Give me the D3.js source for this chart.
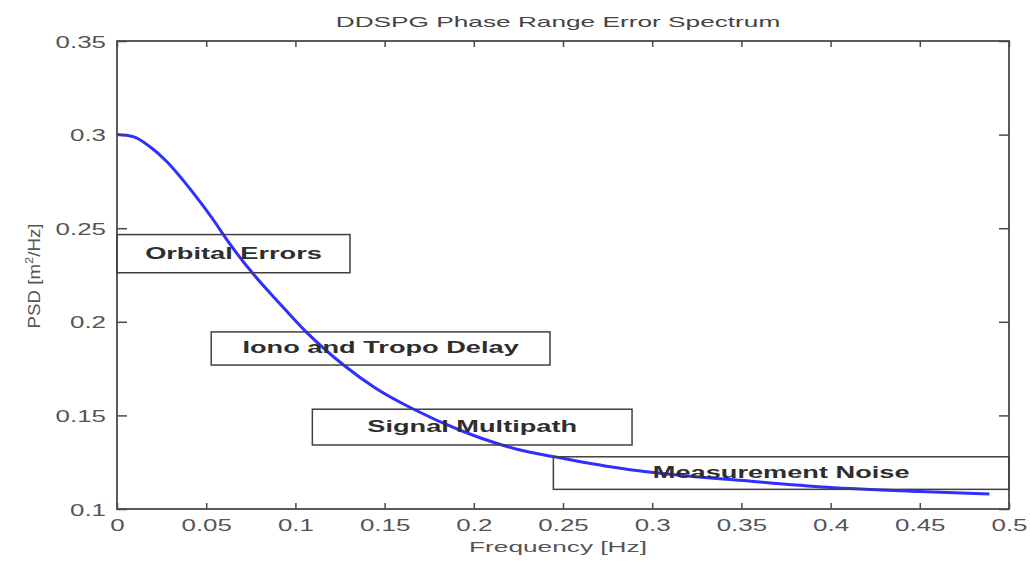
<!DOCTYPE html>
<html>
<head>
<meta charset="utf-8">
<script src="https://cdn.jsdelivr.net/npm/d3@7"></script>
<style>
  body { margin: 0; background: #fff; }
  svg { display: block; }
</style>
</head>
<body>
<svg id="chart" width="1030" height="565"></svg>
<script>
// Power spectral density of the phase range error (sampled along the curve)
const freq = [0.000, 0.009, 0.0185, 0.028, 0.037, 0.0465, 0.056, 0.0595, 0.065, 0.0764,
              0.090, 0.106, 0.127, 0.145, 0.166, 0.192, 0.226, 0.2444, 0.2735, 0.3044,
              0.351, 0.398, 0.450, 0.489];
const psd  = [0.300, 0.2989, 0.2935, 0.2855, 0.2757, 0.2642, 0.2517, 0.2467, 0.2393, 0.2255,
              0.2110, 0.1946, 0.1769, 0.1645, 0.1534, 0.1422, 0.1315, 0.1280, 0.1230, 0.1191,
              0.1152, 0.1116, 0.1093, 0.1080];

const xTicks = [0, 0.05, 0.1, 0.15, 0.2, 0.25, 0.3, 0.35, 0.4, 0.45, 0.5];
const xTickLabels = ["0", "0.05", "0.1", "0.15", "0.2", "0.25", "0.3", "0.35", "0.4", "0.45", "0.5"];
const yTicks = [0.1, 0.15, 0.2, 0.25, 0.3, 0.35];
const yTickLabels = ["0.1", "0.15", "0.2", "0.25", "0.3", "0.35"];

// Error-source annotations and their extents in data units [f0, f1, psdTop, psdBottom]
const noteLabels = ["Orbital Errors", "Iono and Tropo Delay", "Signal Multipath", "Measurement Noise"];
const noteExtents = [
  [0.0000, 0.1306, 0.2466, 0.2262],
  [0.0528, 0.2427, 0.1946, 0.1769],
  [0.1095, 0.2887, 0.1533, 0.1342],
  [0.2446, 0.5000, 0.1279, 0.1105]
];

const titleText = "DDSPG Phase Range Error Spectrum";
const xLabelText = "Frequency [Hz]";

// ---- layout ----
const plot = { left: 117, right: 1009, top: 41, bottom: 509 };
const STRETCH = 1.75;      // horizontal widening of the regular text
const TICK_STRETCH = 1.62; // horizontal widening of the tick labels
const STRETCH_BOLD = 1.7;  // horizontal widening of the annotation text
const axisColor = "#4a4a4a";
const textColor = "#555";

const svg = d3.select("#chart");

const x = d3.scaleLinear().domain([0, 0.5]).range([plot.left, plot.right]);
const y = d3.scaleLinear().domain([0.1, 0.35]).range([plot.bottom, plot.top]);

// ---- curve ----
const pts = freq.map((f, i) => [f, psd[i]]);
const line = d3.line().x(d => x(d[0])).y(d => y(d[1])).curve(d3.curveMonotoneX);
svg.append("path")
  .attr("d", line(pts))
  .attr("fill", "none")
  .attr("stroke", "#2f2fff")
  .attr("stroke-width", 3)
  .attr("stroke-linejoin", "round");

// ---- axes (ticks point inward on all four sides) ----
function styleAxis(g) {
  g.select(".domain").remove();
  g.selectAll(".tick line").attr("stroke", axisColor).attr("stroke-width", 1.5);
  g.attr("font-family", "'Liberation Sans', Arial, sans-serif").attr("font-size", 16);
  g.selectAll(".tick text").attr("fill", textColor);
}

const xFmt = d => xTickLabels[xTicks.indexOf(d)];
const yFmt = d => yTickLabels[yTicks.indexOf(d)];

const gx = svg.append("g")
  .attr("transform", `translate(0,${plot.bottom})`)
  .call(d3.axisBottom(x).tickValues(xTicks).tickFormat(xFmt).tickSize(-6).tickSizeOuter(0))
  .call(styleAxis);
gx.selectAll(".tick text")
  .attr("y", 22).attr("dy", null)
  .attr("transform", `scale(${TICK_STRETCH},1)`);

svg.append("g")
  .attr("transform", `translate(0,${plot.top})`)
  .call(d3.axisTop(x).tickValues(xTicks).tickFormat("").tickSize(-6).tickSizeOuter(0))
  .call(styleAxis);

const gy = svg.append("g")
  .attr("transform", `translate(${plot.left},0)`)
  .call(d3.axisLeft(y).tickValues(yTicks).tickFormat(yFmt).tickSize(-10).tickSizeOuter(0))
  .call(styleAxis);
gy.selectAll(".tick text")
  .attr("x", -11 / TICK_STRETCH).attr("dy", null).attr("y", 6)
  .attr("transform", `scale(${TICK_STRETCH},1)`);

svg.append("g")
  .attr("transform", `translate(${plot.right},0)`)
  .call(d3.axisRight(y).tickValues(yTicks).tickFormat("").tickSize(-10).tickSizeOuter(0))
  .call(styleAxis);

// plot frame
svg.append("rect")
  .attr("x", plot.left).attr("y", plot.top)
  .attr("width", plot.right - plot.left).attr("height", plot.bottom - plot.top)
  .attr("fill", "none").attr("stroke", axisColor).attr("stroke-width", 1.8);

// ---- annotation boxes ----
const notes = svg.append("g");
noteLabels.forEach((label, i) => {
  const [f0, f1, pTop, pBot] = noteExtents[i];
  const x0 = x(f0), x1 = x(f1), y0 = y(pTop), y1 = y(pBot);
  notes.append("rect")
    .attr("x", x0).attr("y", y0)
    .attr("width", x1 - x0).attr("height", y1 - y0)
    .attr("fill", "none").attr("stroke", "#404040").attr("stroke-width", 1.5);
  notes.append("text")
    .attr("transform", `translate(${(x0 + x1) / 2},${(y0 + y1) / 2 + 5}) scale(${STRETCH_BOLD},1)`)
    .attr("text-anchor", "middle")
    .attr("font-family", "'Liberation Sans', Arial, sans-serif")
    .attr("font-weight", "bold")
    .attr("font-size", 16)
    .attr("fill", "#2e2e2e")
    .text(label);
});

// ---- title and axis labels ----
svg.append("text")
  .attr("transform", `translate(558,27) scale(${STRETCH},1)`)
  .attr("text-anchor", "middle")
  .attr("font-family", "'Liberation Sans', Arial, sans-serif")
  .attr("font-size", 15)
  .attr("fill", "#444")
  .text(titleText);

svg.append("text")
  .attr("transform", `translate(558,552) scale(${STRETCH},1)`)
  .attr("text-anchor", "middle")
  .attr("font-family", "'Liberation Sans', Arial, sans-serif")
  .attr("font-size", 15)
  .attr("fill", textColor)
  .text(xLabelText);

const yl = svg.append("text")
  .attr("transform", "translate(40,276) rotate(-90) scale(1.17,1)")
  .attr("text-anchor", "middle")
  .attr("font-family", "'Liberation Sans', Arial, sans-serif")
  .attr("font-size", 16)
  .attr("fill", textColor);
yl.append("tspan").text("PSD [m");
yl.append("tspan").attr("font-size", 11).attr("dy", -7).text("2");
yl.append("tspan").attr("dy", 7).text("/Hz]");
</script>
</body>
</html>
